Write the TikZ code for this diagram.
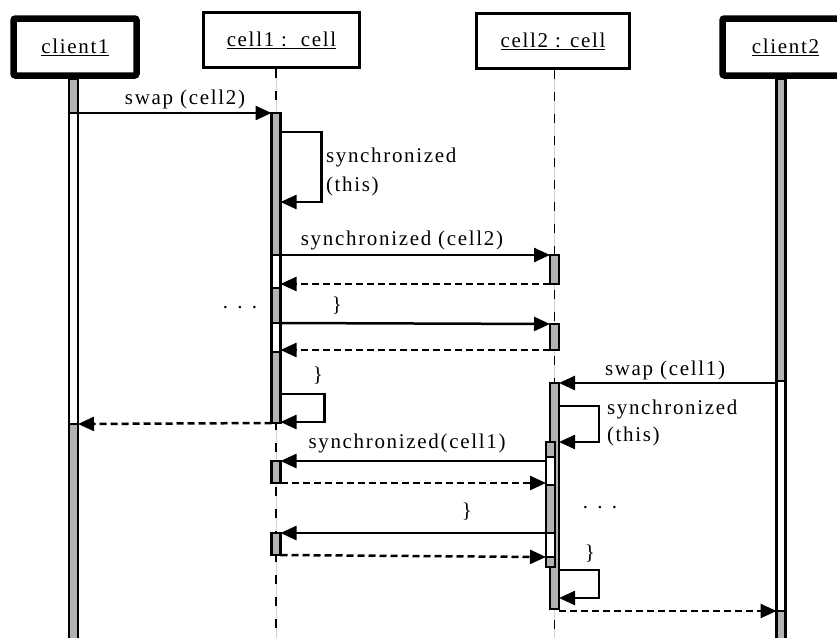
\documentclass[tikz,border=0pt]{standalone}
\usepackage{fontspec}
\setmainfont{Liberation Serif}[LetterSpace=8]
\usetikzlibrary{arrows.meta}
\definecolor{barg}{RGB}{178,178,178}
\tikzset{
  x=1pt, y=-1pt,
  lbl/.style={font=\fontsize{21}{24}\selectfont, inner sep=0pt, outer sep=0pt},
  objbox/.style={draw, line width=3pt, fill=white, font=\fontsize{21}{24}\selectfont, inner sep=0pt, minimum height=55pt},
  actorbox/.style={draw, line width=6.5pt, rounded corners=2pt, fill=white, font=\fontsize{21}{24}\selectfont, inner sep=0pt, minimum height=57pt},
  segst/.style={draw, line width=2.5pt, minimum width=9pt, inner sep=0pt, outer sep=0pt},
  msg/.style={line width=2.5pt, -{Triangle[length=16pt,width=14pt]}},
  ret/.style={line width=2.5pt, dash pattern=on 7pt off 4pt, -{Triangle[length=16pt,width=14pt]}},
  lifebg/.style={line width=1pt, black!18},
  lifefg/.style={line width=1.6pt, dash pattern=on 9pt off 13pt},
}
\newcommand{\actseg}[5]{\node[segst, fill=#5, minimum height={(#4)-(#3)}] (#1) at (#2,{((#3)+(#4))/2}) {};}
\begin{document}
\begin{tikzpicture}
\useasboundingbox (0,0) rectangle (837,637);
\clip (0,0) rectangle (837,637);
% boxes
\node[actorbox, minimum width=123pt] (client1) at (75,47) {\underline{client1}};
\node[objbox, minimum width=156pt] (cell1) at (281.5,40) {\underline{cell1 :\ \ cell}};
\node[objbox, minimum width=153pt] (cell2) at (553,41) {\underline{cell2 : cell}};
\node[actorbox, minimum width=126pt] (client2) at (785.5,47) {\underline{client2}};
% lifeline ends
\coordinate (c1end) at (276,645);
\coordinate (c2end) at (554.5,645);
\draw[lifebg] (c1end |- cell1.south) -- (c1end);
\draw[lifefg] (c1end |- cell1.south) -- (c1end);
\draw[lifebg] (c2end |- cell2.south) -- (c2end);
\draw[lifefg] (c2end |- cell2.south) -- (c2end);
% client1 bar
\actseg{cl1a}{73.5}{79}{113}{barg}
\actseg{cl1b}{73.5}{113}{424}{white}
\actseg{cl1c}{73.5}{424}{650}{barg}
% cell1 bars
\actseg{c1a}{276}{113}{255}{barg}
\actseg{c1b}{276}{255}{288}{white}
\actseg{c1c}{276}{288}{323}{barg}
\actseg{c1d}{276}{323}{352}{white}
\actseg{c1e}{276}{352}{423}{barg}
\actseg{c1f}{276}{461}{483}{barg}
\actseg{c1g}{276}{533}{555}{barg}
% cell2 bars
\actseg{c2a}{554.5}{255}{284}{barg}
\actseg{c2b}{554.5}{324}{350}{barg}
\actseg{c2c}{554.5}{383}{609}{barg}
\actseg{n1}{550.5}{442}{457}{barg}
\actseg{n2}{550.5}{457}{485}{white}
\actseg{n3}{550.5}{485}{533}{barg}
\actseg{n4}{550.5}{533}{557}{white}
\actseg{n5}{550.5}{557}{567}{barg}
% client2 bar
\actseg{cl2a}{781}{79}{381}{barg}
\actseg{cl2b}{781}{381}{611}{white}
\actseg{cl2c}{781}{611}{650}{barg}
% messages
\draw[msg] (cl1b.north east) -- (c1a.north west);
\node[lbl] (l1) at (185,99) {swap (cell2)};
\draw[msg] (c1a.east |- 0,132) -- ++(41,0) |- (c1a.east |- 0,202);
\node[lbl, anchor=west] (l2a) at (326,157) {synchronized};
\node[lbl, anchor=west] (l2b) at (326,186) {(this)};
\draw[msg] (c1b.north east) -- (c2a.north west);
\node[lbl] (l3) at (402,240) {synchronized (cell2)};
\draw[ret] (c2a.south west) -- (c1b.east |- c2a.south);
\node[lbl] (d1) at (240,308) {. . .};
\draw[msg] (c1d.north east) -- (c2b.north west);
\node[lbl] (l6) at (337,306) {\}};
\draw[ret] (c2b.south west) -- (c1d.east |- c2b.south);
\node[lbl] (l8) at (318,376) {\}};
\draw[msg] (c1e.east |- 0,394) -- ++(44,0) |- (c1e.east |- 0,422);
\draw[ret] (c1e.south west) -- (cl1c.north east);
\draw[msg] (cl2b.west |- c2c.north) -- (c2c.north east);
\node[lbl] (l10) at (665,370) {swap (cell1)};
\draw[msg] (c2c.east |- 0,406) -- ++(40,0) |- (c2c.east |- 0,442);
\node[lbl, anchor=west] (l11a) at (607,409) {synchronized};
\node[lbl, anchor=west] (l11b) at (607,436) {(this)};
\draw[msg] (n1.west |- c1f.north) -- (c1f.north east);
\node[lbl] (l12) at (407,443) {synchronized(cell1)};
\draw[ret] (c1f.south east) -- (n3.west |- c1f.south);
\node[lbl] (l14) at (467,512) {\}};
\draw[msg] (n4.north west) -- (c1g.north east);
\draw[ret] (c1g.south east) -- (n5.north west);
\node[lbl] (d2) at (600,508) {. . .};
\node[lbl] (l17) at (590,554) {\}};
\draw[msg] (c2c.east |- 0,570) -- ++(40,0) |- (c2c.east |- 0,598);
\draw[ret] (c2c.east |- cl2c.north) -- (cl2c.north west);
\end{tikzpicture}
\end{document}
